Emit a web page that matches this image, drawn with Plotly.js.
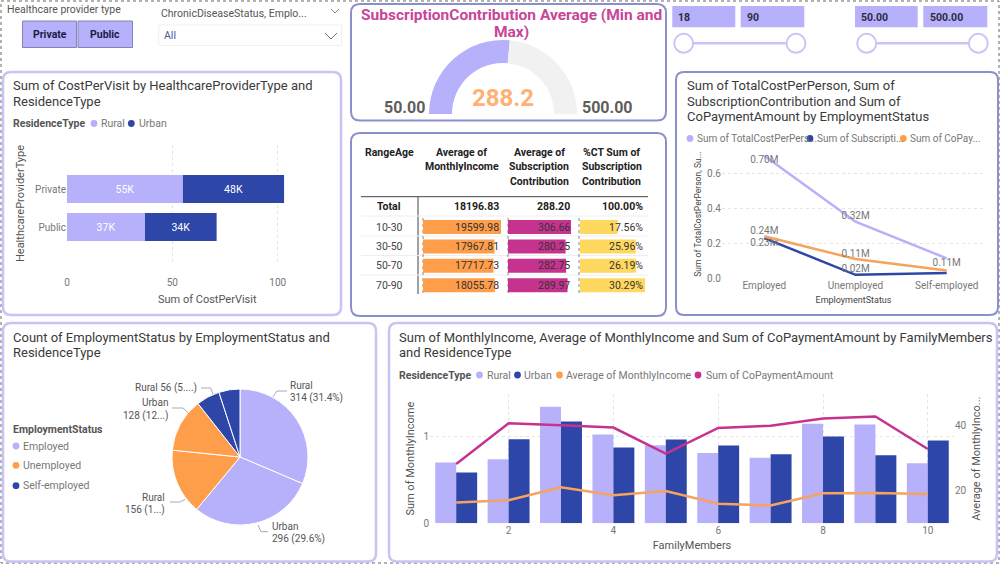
<!DOCTYPE html>
<html><head><meta charset="utf-8">
<script src="https://cdn.plot.ly/plotly-3.0.1.min.js"></script>
<style>html,body{margin:0;padding:0;background:#fff}#c{width:1000px;height:564px}</style>
</head><body><div id="c"></div>
<script>
// ---------- data ----------
const providerTypes = ['Private','Public'];
const costRural = [55,37];
const costUrban = [48,34];
const gaugeMin = 50, gaugeMax = 500, gaugeValue = 288.2;
const rangeAge = ['10-30','30-50','50-70','70-90'];
const avgIncome = [19599.98,17967.81,17717.73,18055.78];
const avgSub = [306.66,280.25,282.75,289.97];
const pctSub = [17.56,25.96,26.19,30.29];
const totalRow = ['18196.83','288.20','100.00%'];
const employment = ['Employed','Unemployed','Self-employed'];
const totalCost = [0.70,0.323,0.114];
const subscription = [0.23,0.02,0.03];
const copay = [0.24,0.11,0.045];
const pieLabels = ['Employed Rural','Employed Urban','Unemployed Rural','Unemployed Urban','Self-employed Rural','Self-employed Urban'];
const pieValues = [314,296,156,128,56,50];
const family = [1,2,3,4,5,6,7,8,9,10];
const incomeRural = [0.70,0.738,1.342,1.023,0.90,0.81,0.754,1.146,1.138,0.692];
const incomeUrban = [0.585,0.969,1.173,0.873,0.965,0.896,0.796,1.0,0.785,0.954];
const avgIncomeLine = [16.5,17.2,21.1,18.7,20.0,16.1,15.6,19.3,19.4,19.1];
const copayLine = [28.2,40.6,40.0,39.3,31.4,39.2,39.9,42.1,42.7,32.8];

// ---------- style ----------
const LAV='#B7B0FA', NAVY='#2E46A8', ORG='#FF9E4A', MAG='#C5338F', YEL='#FFD95F';
const F='Roboto, sans-serif', DARK='#3a3a3a', GREY='#777777', MID='#555555';
const X=x=>x/1000, Y=y=>1-y/564;
const dx=(a,b)=>[X(a),X(b)], dy=(a,b)=>[Y(b),Y(a)];
const shapes=[], ann=[];
function text(x,y,s,o={}){ann.push({xref:'paper',yref:'paper',x:X(x),y:Y(y),text:s,showarrow:false,
  xanchor:o.a||'left',yanchor:'middle',borderpad:0,
  font:{family:F,size:o.s||13,color:o.c||DARK,weight:o.b?700:400}});}
function rrect(x0,y0,x1,y1,r,line,w,fill){const kx=r,ky=r;
  const p=`M${X(x0+kx)},${Y(y0)} L${X(x1-kx)},${Y(y0)} Q${X(x1)},${Y(y0)} ${X(x1)},${Y(y0+ky)} L${X(x1)},${Y(y1-ky)} Q${X(x1)},${Y(y1)} ${X(x1-kx)},${Y(y1)} L${X(x0+kx)},${Y(y1)} Q${X(x0)},${Y(y1)} ${X(x0)},${Y(y1-ky)} L${X(x0)},${Y(y0+ky)} Q${X(x0)},${Y(y0)} ${X(x0+kx)},${Y(y0)} Z`;
  shapes.push({type:'path',xref:'paper',yref:'paper',path:p,line:{color:line,width:w},fillcolor:fill||'#fff',layer:'below'});}
function rect(x0,y0,x1,y1,fill,line,w){shapes.push({type:'rect',xref:'paper',yref:'paper',x0:X(x0),x1:X(x1),y0:Y(y0),y1:Y(y1),fillcolor:fill,line:{color:line||fill,width:w===undefined?0:w},layer:'below'});}
function seg(pts,color,w,dash,layer){shapes.push({type:'path',xref:'paper',yref:'paper',path:pts.map((p,i)=>(i?'L':'M')+X(p[0])+','+Y(p[1])).join(' '),line:{color,width:w||1,dash:dash||'solid'},layer:layer||'below'});}
function circ(x,y,r,fill,line,w){shapes.push({type:'circle',xref:'paper',yref:'paper',x0:X(x-r),x1:X(x+r),y0:Y(y-r),y1:Y(y+r),fillcolor:fill,line:{color:line||fill,width:w||0},layer:'below'});}
function legend(x,y,c,s,tx,sz){circ(x,y,3.4,c);text(tx,y,s,{s:sz||10.5,c:GREY});}

// outer frame and cards
rect(1,1,999,563,'rgba(0,0,0,0)','#666666',1);shapes[0].line.dash='dot';
const CL='#C9C4F6', CD='#8A90CC';
rrect(3,72,341,315,8,CL,2.5);
rrect(351,4,666,120.5,9,CD,2);
rrect(351,133,666,316,9,CD,2);
rrect(676,72,998,315,8,CD,2);
rrect(3,323,376,561.5,8,CL,2.5);
rrect(389,323,997,561.5,8,CL,2.5);

// slicers
text(6,9.5,'Healthcare provider type',{s:10.5,c:MID});
rect(22.5,21,76.5,47.5,LAV,'#8583b5',1);rect(78,21,132.5,47.5,LAV,'#8583b5',1);
text(49.5,34.5,'Private',{a:'center',s:10.5,b:1,c:'#1b1b46'});text(105,34.5,'Public',{a:'center',s:10.5,b:1,c:'#1b1b46'});
text(160,13.5,'ChronicDiseaseStatus, Emplo...',{s:10.5,c:MID});
seg([[331,9],[335,13],[339,9]],'#888',1);
rect(158.7,25,341.5,45.5,'#ffffff','#f0f0f0',1);
text(163,35.5,'All',{s:10.5,c:'#4a5a9a'});
seg([[325,33],[331,39],[337,33]],'#777',1);
[[672.3,735.3,677.3,'18'],[740.7,804.3,746,'90'],[855,917.7,860,'50.00'],[923.3,987.3,929,'500.00']].forEach(b=>{
  rect(b[0],6,b[1],27.3,LAV);text(b[2],17,b[3],{s:10.5,b:1,c:'#2b2b44'});});
[[683.7,796],[866.7,978.3]].forEach(t=>{seg([[t[0],43.3],[t[1],43.3]],CL,2.5);
  circ(t[0],43.3,9.5,'#fff',CL,2);circ(t[1],43.3,9.5,'#fff',CL,2);});

// card 1 text
text(12,85.7,'Sum of CostPerVisit by HealthcareProviderType and');text(12,101,'ResidenceType');
text(12,123.5,'ResidenceType',{s:10.5,b:1,c:MID});
legend(94,123.5,LAV,'Rural',100);legend(131.3,123.5,NAVY,'Urban',137.7);

// gauge text
text(511,14.7,'SubscriptionContribution Average (Min and',{a:'center',s:15.5,b:1,c:'#C8459A'});
text(511,32,'Max)',{a:'center',s:15.5,b:1,c:'#C8459A'});
text(503,98,gaugeValue.toFixed(1),{a:'center',s:24,b:1,c:'#FFB077'});
text(404,107.5,gaugeMin.toFixed(2),{a:'center',s:16,b:1,c:'#605E5C'});
text(607.5,107.5,gaugeMax.toFixed(2),{a:'center',s:16,b:1,c:'#605E5C'});

// table chrome and text
const H={a:'center',s:10.5,b:1,c:'#222'};
text(389,152.7,'RangeAge',H);
text(461.7,152.7,'Average of',H);text(461.7,166.7,'MonthlyIncome',H);
text(539,152.7,'Average of',H);text(539,166.7,'Subscription',H);text(539,181,'Contribution',H);
text(611.7,152.7,'%CT Sum of',H);text(611.7,166.7,'Subscription',H);text(611.7,181,'Contribution',H);
seg([[361,196.7],[648,196.7]],'#444',1);
seg([[418,196.7],[418,294]],'#444',1);
[216,236,255.5,275].forEach(y=>seg([[361,y],[648,y]],'#eeeeee',1));
[423,508,579].forEach(x=>seg([[x,218],[x,294]],'#888',1,'dot'));
const colR=[500,571,644];
text(389,206.7,'Total',{a:'center',s:10.5,b:1,c:'#222'});
totalRow.forEach((v,i)=>text(colR[i],206.7,v,{a:'right',s:10.5,b:1,c:'#222'}));
const rowY=[227,246.3,265.6,285.5];
rangeAge.forEach((r,i)=>{text(389,rowY[i],r,{a:'center',s:10.5,c:'#444'});
  text(colR[0],rowY[i],avgIncome[i].toFixed(2),{a:'right',s:10.5,c:'#333'});
  text(colR[1],rowY[i],avgSub[i].toFixed(2),{a:'right',s:10.5,c:'#333'});
  text(colR[2],rowY[i],pctSub[i].toFixed(2)+'%',{a:'right',s:10.5,c:'#333'});});

// line card text
text(685.7,85.7,'Sum of TotalCostPerPerson, Sum of');text(685.7,101,'SubscriptionContribution and Sum of');text(685.7,116.3,'CoPaymentAmount by EmploymentStatus');
legend(690,138.5,LAV,'Sum of TotalCostPerPers...',695.7,10);
legend(810,138.5,NAVY,'Sum of Subscripti...',816,10);
legend(903.3,138.5,ORG,'Sum of CoPay...',908.7,10);

// pie card text
text(12,337.3,'Count of EmploymentStatus by EmploymentStatus and');text(12,352.7,'ResidenceType');
text(12,429,'EmploymentStatus',{s:10.5,b:1,c:MID});
legend(16,446,LAV,'Employed',22);legend(16,465.3,ORG,'Unemployed',22);legend(16,485.7,NAVY,'Self-employed',22);
const PL={s:10,c:MID};
text(289,385,'Rural',PL);text(289,397.5,'314 (31.4%)',PL);
text(271,526.7,'Urban',PL);text(271,539,'296 (29.6%)',PL);
text(166,497.5,'Rural',{...PL,a:'right'});text(166,510,'156 (1...)',{...PL,a:'right'});
text(169,402.5,'Urban',{...PL,a:'right'});text(169,415.5,'128 (12...)',{...PL,a:'right'});
text(198,388,'Rural 56 (5....)',{...PL,a:'right'});
seg([[273,396.7],[277,391],[287,391]],'#aaa',1);
seg([[258,525],[261,531.7],[268,531.7]],'#aaa',1);
seg([[185,499.3],[180,502],[170,502]],'#aaa',1);
seg([[188,412.7],[183,408],[172,408]],'#aaa',1);
seg([[213,394],[210.7,388],[201,388]],'#aaa',1);

// combo card text
text(397.5,337.3,'Sum of MonthlyIncome, Average of MonthlyIncome and Sum of CoPaymentAmount by FamilyMembers');text(397.5,352.7,'and ResidenceType');
text(397.5,375,'ResidenceType',{s:10.5,b:1,c:MID});
legend(479.5,375,LAV,'Rural',485.8);legend(517.5,375,NAVY,'Urban',523.4);
legend(559.5,375,ORG,'Average of MonthlyIncome',565.4);legend(698,375,MAG,'Sum of CoPaymentAmount',704.6);

// ---------- traces ----------
const none={hoverinfo:'skip',showlegend:false};
const barText=v=>v+'K';
const traces=[
 {type:'bar',orientation:'h',name:'Rural',y:providerTypes,x:costRural,offsetgroup:'s',width:0.74,offset:-0.37,marker:{color:LAV},text:costRural.map(barText),textposition:'inside',insidetextanchor:'middle',textangle:0,constraintext:'none',textfont:{family:F,size:10.5,color:'#fff'},xaxis:'x',yaxis:'y',...none},
 {type:'bar',orientation:'h',name:'Urban',y:providerTypes,x:costUrban,base:costRural,offsetgroup:'s',width:0.74,offset:-0.37,marker:{color:NAVY},text:costUrban.map(barText),textposition:'inside',insidetextanchor:'middle',textangle:0,constraintext:'none',textfont:{family:F,size:10.5,color:'#fff'},xaxis:'x',yaxis:'y',...none},
 {type:'pie',domain:{x:dx(429,577),y:dy(40,188)},values:[gaugeValue-gaugeMin,gaugeMax-gaugeValue,gaugeMax-gaugeMin],labels:['Value','Rest','Hidden'],sort:false,direction:'clockwise',rotation:-90,hole:0.69,textinfo:'none',marker:{colors:[LAV,'#F1F1F1','rgba(0,0,0,0)'],line:{width:0}},...none},
 {type:'bar',orientation:'h',y:rangeAge,x:avgIncome,width:0.72,offset:-0.36,marker:{color:ORG},xaxis:'x4',yaxis:'y5',...none},
 {type:'bar',orientation:'h',y:rangeAge,x:avgSub,width:0.72,offset:-0.36,marker:{color:MAG},xaxis:'x5',yaxis:'y6',...none},
 {type:'bar',orientation:'h',y:rangeAge,x:pctSub,width:0.72,offset:-0.36,marker:{color:YEL},xaxis:'x6',yaxis:'y7',...none},
 {type:'scatter',mode:'lines+text',name:'Sum of TotalCostPerPerson',x:employment,y:totalCost,line:{color:LAV,width:2.5},text:totalCost.map(v=>v.toFixed(2)+'M'),textposition:['bottom center','top center','bottom center'],textfont:{family:F,size:10,color:GREY},xaxis:'x2',yaxis:'y2',...none},
 {type:'scatter',mode:'lines+text',name:'Sum of SubscriptionContribution',x:employment,y:subscription,line:{color:NAVY,width:2.5},text:subscription.map((v,i)=>i<2?v.toFixed(2)+'M':''),textposition:['bottom center','top center','top center'],textfont:{family:F,size:10,color:GREY},xaxis:'x2',yaxis:'y2',...none},
 {type:'scatter',mode:'lines+text',name:'Sum of CoPaymentAmount',x:employment,y:copay,line:{color:'#F5A35E',width:2.5},text:copay.map((v,i)=>i<2?v.toFixed(2)+'M':''),textposition:['top center','top center','top center'],textfont:{family:F,size:10,color:GREY},xaxis:'x2',yaxis:'y2',...none},
 {type:'pie',domain:{x:dx(172,308),y:dy(389,525)},labels:pieLabels,values:pieValues,sort:false,direction:'clockwise',rotation:0,textinfo:'none',marker:{colors:[LAV,LAV,ORG,ORG,NAVY,NAVY],line:{color:'#fff',width:1}},...none},
 {type:'bar',name:'Rural',x:family,y:incomeRural,marker:{color:LAV},xaxis:'x3',yaxis:'y3',...none},
 {type:'bar',name:'Urban',x:family,y:incomeUrban,marker:{color:NAVY},xaxis:'x3',yaxis:'y3',...none},
 {type:'scatter',mode:'lines',name:'Average of MonthlyIncome',x:family,y:avgIncomeLine,line:{color:'#F5A35E',width:2.5},xaxis:'x3',yaxis:'y4',...none},
 {type:'scatter',mode:'lines',name:'Sum of CoPaymentAmount',x:family,y:copayLine,line:{color:MAG,width:2.5},xaxis:'x3',yaxis:'y4',...none}
];

// ---------- axes ----------
const tf={family:F,size:10,color:GREY};
const grid={showgrid:true,gridcolor:'#e4e4e4',griddash:'dot',gridwidth:1,zeroline:false,showline:false,ticks:'',tickfont:tf};
const nog={showgrid:false,zeroline:false,showline:false,ticks:'',tickfont:tf};
const hidden={visible:false,fixedrange:true};
const ttl=(t,sz,st,c)=>({text:t,standoff:st,font:{family:F,size:sz,color:c||MID}});
const layout={
 width:1000,height:564,margin:{l:0,r:0,t:0,b:0,pad:0},paper_bgcolor:'#fff',plot_bgcolor:'rgba(0,0,0,0)',
 showlegend:false,barmode:'group',bargap:0.2,bargroupgap:0,font:{family:F},
 shapes:shapes,annotations:ann,
 xaxis:{...grid,domain:dx(67,347.5-0),range:[0,133.1],tickvals:[0,50,100],ticksuffix:'K',ticklabelstandoff:13,title:ttl('Sum of CostPerVisit',11,8),anchor:'y'},
 yaxis:{...nog,domain:dy(145,262),type:'category',range:[1.92,-1.158],title:ttl('HealthcareProviderType',11,8),anchor:'x'},
 xaxis2:{...grid,showgrid:false,domain:dx(722,985),type:'category',categoryorder:'array',categoryarray:employment,range:[-0.464,2.42],title:ttl('EmploymentStatus',9,6,'#444'),anchor:'y2'},
 yaxis2:{...grid,domain:dy(150,278.3),range:[0,0.733],tickvals:[0,0.2,0.4,0.6],tickformat:'.1f',ticksuffix:'M',title:ttl('Sum of TotalCostPerPerson, Su...',8.5,4,'#444'),anchor:'x2'},
 xaxis3:{...grid,domain:dx(430,954),range:[0.5,10.5],tickvals:[2,4,6,8,10],title:ttl('FamilyMembers',11,6),anchor:'y3'},
 yaxis3:{...grid,domain:dy(394,523.3),range:[0,1.49],tickvals:[0,1],ticksuffix:'M',title:ttl('Sum of MonthlyIncome',11,6),anchor:'x3'},
 yaxis4:{...nog,domain:dy(394,523.3),range:[10.15,49.54],overlaying:'y3',side:'right',tickvals:[20,40],ticksuffix:'K',title:ttl('Average of MonthlyInco...',11,6),anchor:'x3'},
 xaxis4:{...hidden,domain:dx(423,501),range:[0,19599.98],anchor:'y5'},
 yaxis5:{...hidden,domain:dy(217.3,295),type:'category',range:[3.5,-0.5],anchor:'x4'},
 xaxis5:{...hidden,domain:dx(508,571),range:[0,306.66],anchor:'y6'},
 yaxis6:{...hidden,domain:dy(217.3,295),type:'category',range:[3.5,-0.5],anchor:'x5'},
 xaxis6:{...hidden,domain:dx(580,645),range:[0,30.29],anchor:'y7'},
 yaxis7:{...hidden,domain:dy(217.3,295),type:'category',range:[3.5,-0.5],anchor:'x6'}
};
Plotly.newPlot('c',traces,layout,{displayModeBar:false,staticPlot:true});
</script></body></html>
